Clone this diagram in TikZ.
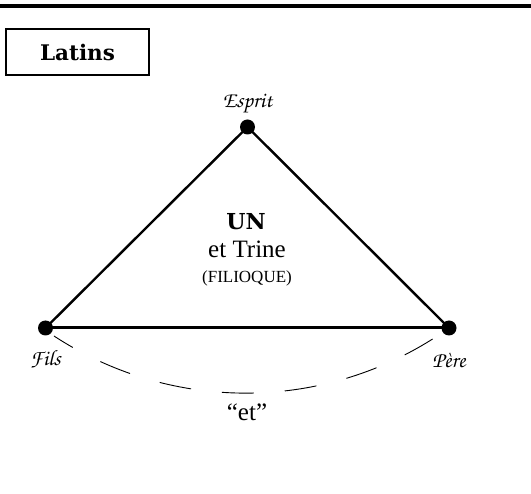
\documentclass[tikz,border=0pt]{standalone}
\usepackage{fontspec}
\setmainfont{Liberation Serif}
\newfontfamily\heavyserif{DejaVu Serif}
\usetikzlibrary{positioning}
\newcommand{\chancery}{\fontencoding{T1}\fontfamily{pzc}\fontseries{m}\fontshape{it}\selectfont}

\begin{document}
\begin{tikzpicture}[x=1pt, y=-1pt,
    dot/.style={circle, fill=black, inner sep=0pt, minimum size=15pt},
    side/.style={line width=2.4pt},
    person/.style={font=\chancery\fontsize{22}{24}\selectfont}]
  \useasboundingbox (0,0) rectangle (531,494);
  \draw[line width=3.5pt] (0,6) -- (531,6);
  \node[draw, line width=2.2pt, minimum width=143pt, minimum height=46pt, inner sep=0pt,
        font=\heavyserif\bfseries\fontsize{21.5}{24}\selectfont] (latins) at (77.5,52) {Latins};
  % the three persons
  \node[dot] (esprit) at (247.5,127) {};
  \node[dot] (fils) at (45.5,328) {};
  \node[dot] (pere) at (449,328) {};
  \node[person, above=2pt of esprit] (esprit-l) {Esprit};
  \node[person, below=11pt of fils] (fils-l) {Fils};
  \node[person, below=14pt of pere] (pere-l) {Père};
  \draw[side] (esprit.center) -- (fils.center);
  \draw[side] (esprit.center) -- (pere.center);
  \draw[line width=3pt] (fils.center) -- (pere.center);
  % inside
  \node[anchor=base, font=\heavyserif\bfseries\fontsize{22}{24}\selectfont] (un) at (246,230) {UN};
  \node[anchor=base, font=\fontsize{25}{28}\selectfont] (trine) at (247,258) {et Trine};
  \node[anchor=base, font=\fontsize{17}{19}\selectfont] (filioque) at (247,283) {(FILIOQUE)};
  % dashed bow under the base
  \coordinate (bow) at (54,336);
  \draw[line width=0.9pt, dash pattern=on 32pt off 31pt, dash phase=10pt]
    (bow) arc[start angle=123.2, end angle=56.8, radius=350];
  \node[anchor=base, font=\fontsize{25}{28}\selectfont] (et) at (247,421) {“et”};
\end{tikzpicture}
\end{document}
